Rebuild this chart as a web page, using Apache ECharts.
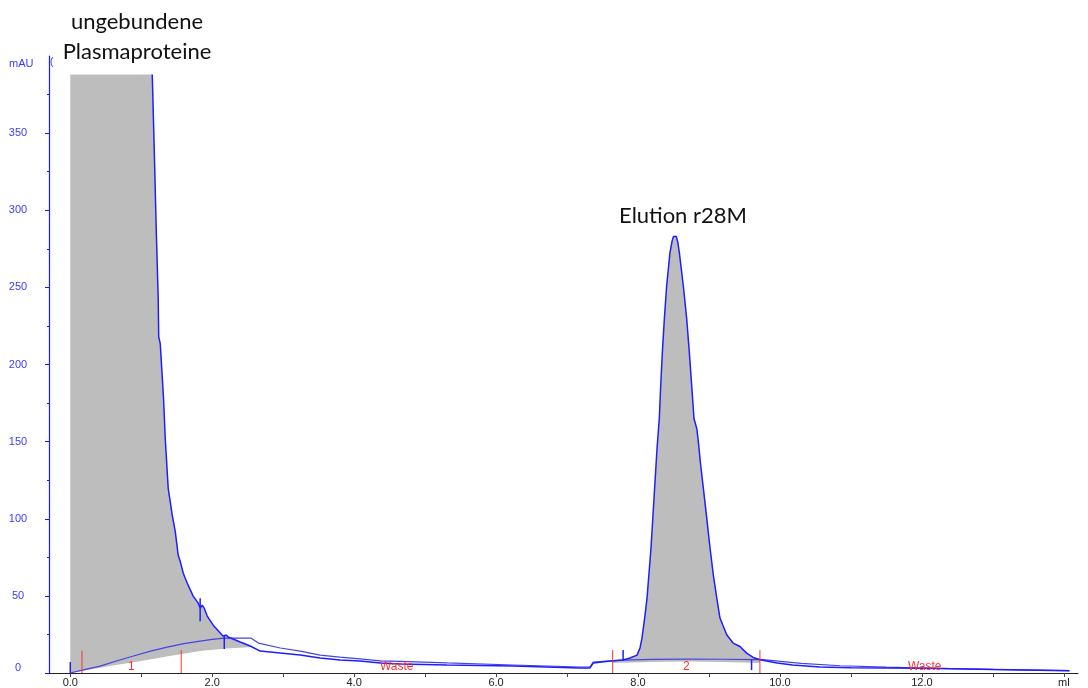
<!DOCTYPE html>
<html>
<head>
<meta charset="utf-8">
<script src="https://cdn.jsdelivr.net/npm/echarts@6/dist/echarts.min.js"></script>
<style>
  html, body { margin: 0; padding: 0; background: #ffffff; }
  #chart { width: 1088px; height: 688px; }
</style>
</head>
<body>
<div id="chart"></div>
<script>
// ---- Chromatogram data: volume (ml) vs. UV absorbance (mAU) ----

// Detector off-scale right after injection (flow-through peak)
const uvSaturated = [[0, 0], [0, 388], [1.155, 388]];

// UV trace, on-scale part
const uvTrace = [
  [1.155, 388], [1.183, 339.6], [1.211, 287.8], [1.239, 242.6], [1.246, 218], [1.268, 213.4],
  [1.314, 177.9], [1.338, 152], [1.38, 119.7], [1.437, 102.2], [1.479, 91.8], [1.521, 76.3],
  [1.549, 72.4], [1.592, 64.7], [1.648, 58.2], [1.732, 49.8], [1.803, 45.3], [1.831, 42.0],
  [1.859, 44.0], [1.887, 42.0], [1.93, 36.9], [2.014, 31.0], [2.155, 23.9], [2.197, 24.6],
  [2.225, 23.3], [2.394, 20.1], [2.535, 17.5], [2.676, 14.2], [2.958, 12.9], [3.24, 11.6],
  [3.52, 9.7], [3.8, 8.4], [4.08, 7.8], [4.37, 6.5], [4.65, 5.8], [5.31, 5.2], [6.24, 4.5],
  [7.18, 3.2], [7.32, 3.2], [7.37, 6.5], [7.61, 7.8], [7.79, 8.4], [7.887, 9.7], [7.986, 11.6],
  [8.028, 16.2], [8.056, 22.6], [8.099, 37.5], [8.127, 48.5], [8.183, 81], [8.225, 113],
  [8.268, 145.5], [8.3, 165], [8.32, 186.5], [8.343, 208], [8.371, 229.6], [8.404, 251.2],
  [8.451, 272.7], [8.48, 280], [8.5, 283], [8.52, 284], [8.54, 283], [8.56, 279.5],
  [8.582, 272.7], [8.638, 251.2], [8.686, 229.6], [8.723, 208], [8.756, 186.5], [8.789, 165],
  [8.83, 158], [8.85, 150], [8.88, 136], [8.92, 120], [8.96, 104], [9.01, 83], [9.06, 64],
  [9.11, 48.5], [9.155, 35.6], [9.25, 24.8], [9.34, 19.4], [9.437, 17.2], [9.53, 12.9],
  [9.624, 10.1], [9.718, 8.6], [9.96, 6.5], [10.18, 5.2], [10.56, 3.9], [11.0, 3.4],
  [12.04, 3.0], [13.0, 2.2], [14.08, 1.5]
];

// Integration baseline
const baselineTrace = [
  [0, 0], [0.2, 2.2], [0.42, 4.5], [0.65, 7.8], [0.89, 11.0], [1.13, 14.2], [1.366, 16.8],
  [1.6, 19.0], [1.83, 20.7], [2.0, 21.8], [2.17, 22.6], [2.55, 22.6], [2.65, 19.4],
  [2.96, 16.2], [3.24, 14.2], [3.52, 11.6], [3.8, 10.3], [4.08, 9.1], [4.37, 7.8],
  [4.65, 7.6], [5.31, 6.5], [6.24, 5.2], [7.18, 3.9], [7.32, 3.9], [7.37, 7.1], [7.61, 7.8],
  [7.79, 8.4], [8.2, 8.8], [8.7, 9.0], [9.2, 8.9], [9.62, 8.7], [9.72, 8.8], [9.9, 8.0],
  [10.3, 6.3], [10.85, 4.7], [11.5, 3.8], [12.04, 3.2], [13.0, 2.3], [14.08, 1.5]
];

// Lower edges of the integrated peak areas
const peak1Floor = [[0, 0], [0.3, 2.5], [0.6, 4.9], [1.0, 7.8], [1.4, 11.0], [1.83, 14.2], [2.2, 15.9], [2.55, 16.8]];
const peak2Floor = [[7.643, 6.5], [8.2, 7.2], [8.7, 7.4], [9.2, 7.2], [9.718, 6.5]];
const peak1Range = [0, 2.535];
const peak2Range = [7.643, 9.718];

// Event marks [ml, from mAU, to mAU]
const eventMarks = [[0, 0, 7.1], [1.83, 33.6, 48.5], [2.17, 15.5, 24.0], [7.79, 7.8, 14.9], [9.6, 1.9, 8.4]];
// Fraction boundaries [ml, height mAU]
const fractionMarks = [[0.165, 14.4], [1.563, 14.9], [7.643, 14.9], [9.718, 14.9]];
// Fraction names [ml, text]
const fractionLabels = [[0.86, '1'], [4.6, 'Waste'], [8.68, '2'], [12.04, 'Waste']];

// Axis ticks
const xLabelValues = [0, 2, 4, 6, 8, 10, 12, 14];
const xTickValues = [0, 1, 2, 3, 4, 5, 6, 7, 8, 9, 10, 11, 12, 13, 14];
const yLabelValues = [0, 50, 100, 150, 200, 250, 300, 350];
const yMinorValues = [25, 75, 125, 175, 225, 275, 325, 375];

// ---- Chart ----
const chart = echarts.init(document.getElementById('chart'), null, { renderer: 'canvas' });

function areaBetween(top, floor) {
  const pts = top.concat(floor.slice().reverse());
  return {
    type: 'custom',
    silent: true,
    clip: true,
    z: 1,
    data: [[top[0][0], top[0][1]]],
    renderItem: function (params, api) {
      return {
        type: 'polygon',
        shape: { points: pts.map(function (p) { return api.coord(p); }) },
        style: { fill: '#bdbdbd', stroke: null }
      };
    }
  };
}

const peak1Top = uvSaturated.concat(uvTrace.filter(p => p[0] <= peak1Range[1]));
const peak2Top = [[peak2Range[0], 7.8]]
  .concat(uvTrace.filter(p => p[0] > peak2Range[0] && p[0] < peak2Range[1]))
  .concat([[peak2Range[1], 8.6]]);

const ax = { fontFamily: 'Liberation Sans, Arial, sans-serif', fontSize: 11 };

const option = {
  animation: false,
  backgroundColor: '#ffffff',
  grid: { left: 49, right: 10, top: 56, bottom: 13 },
  xAxis: [
    {
      type: 'value', min: -0.3, max: 14.2,
      axisLine: { show: true, onZero: false, lineStyle: { color: '#222222', width: 1 } },
      axisTick: { show: true, customValues: xTickValues, length: 4, lineStyle: { color: '#444444' } },
      axisLabel: {
        customValues: xLabelValues, margin: 4, color: '#222222', ...ax,
        formatter: v => (v === 14 ? 'ml' : v.toFixed(1))
      },
      splitLine: { show: false }
    }
  ],
  yAxis: [
    {
      type: 'value', min: 0, max: 400,
      axisLine: { show: true, onZero: false, lineStyle: { color: '#1a1aff', width: 1.2 } },
      axisTick: { show: true, customValues: yLabelValues, length: 4, lineStyle: { color: '#1a1aff' } },
      axisLabel: {
        customValues: yLabelValues, margin: 31, align: 'center', color: '#3a3aff', ...ax,
        formatter: v => (v === 0 ? '{zero|0}' : String(v)),
        rich: { zero: { color: '#3a3aff', ...ax, padding: [0, 0, 10, 0] } }
      },
      splitLine: { show: false }
    },
    {
      type: 'value', min: 0, max: 400, position: 'left',
      axisLine: { show: false, onZero: false },
      axisTick: { show: true, customValues: yMinorValues, length: 2, lineStyle: { color: '#1a1aff' } },
      axisLabel: { show: false },
      splitLine: { show: false }
    }
  ],
  graphic: [
    { type: 'text', left: 9, top: 58, style: { text: 'mAU', fill: '#3a3aff', font: '11px "Liberation Sans", Arial, sans-serif' } },
    { type: 'text', left: 50, top: 57, style: { text: '(', fill: '#3a3aff', font: '10px "Liberation Sans", Arial, sans-serif' } },
    { type: 'text', x: 137, y: 22, style: { text: 'ungebundene', fill: '#111111', font: '22px Lato, sans-serif', textAlign: 'center', textVerticalAlign: 'middle' } },
    { type: 'text', x: 137, y: 52, style: { text: 'Plasmaproteine', fill: '#111111', font: '22px Lato, sans-serif', textAlign: 'center', textVerticalAlign: 'middle' } },
    { type: 'text', x: 683, y: 216, style: { text: 'Elution r28M', fill: '#111111', font: '22px Lato, sans-serif', textAlign: 'center', textVerticalAlign: 'middle' } }
  ],
  series: [
    areaBetween(peak1Top, peak1Floor),
    areaBetween(peak2Top, peak2Floor),
    {
      name: 'Baseline', type: 'line', data: baselineTrace, showSymbol: false, z: 3,
      lineStyle: { color: '#4444e6', width: 1.2 }, silent: true
    },
    {
      name: 'UV', type: 'line', data: uvTrace, showSymbol: false, z: 4,
      lineStyle: { color: '#1e1eff', width: 1.5 }, silent: true
    },
    {
      type: 'custom', z: 5, silent: true, clip: true,
      data: eventMarks,
      encode: { x: 0, y: [1, 2] },
      renderItem: function (params, api) {
        const a = api.coord([api.value(0), api.value(1)]);
        const b = api.coord([api.value(0), api.value(2)]);
        return { type: 'line', shape: { x1: a[0], y1: a[1], x2: b[0], y2: b[1] }, style: { stroke: '#1e1eff', lineWidth: 1.5 } };
      }
    },
    {
      type: 'custom', z: 5, silent: true, clip: true,
      data: fractionMarks,
      encode: { x: 0, y: 1 },
      renderItem: function (params, api) {
        const a = api.coord([api.value(0), 0]);
        const b = api.coord([api.value(0), api.value(1)]);
        return { type: 'line', shape: { x1: a[0], y1: a[1], x2: b[0], y2: b[1] }, style: { stroke: '#ff3030', lineWidth: 1 } };
      }
    },
    {
      type: 'custom', z: 6, silent: true,
      data: fractionLabels.map(d => [d[0], 0, d[1]]),
      encode: { x: 0, y: 1 },
      renderItem: function (params, api) {
        const p = api.coord([api.value(0), 0]);
        return {
          type: 'text', x: p[0], y: p[1] - 6,
          style: { text: fractionLabels[params.dataIndex][1], fill: '#ff3030', font: '12px "Liberation Sans", Arial, sans-serif', textAlign: 'center', textVerticalAlign: 'middle' }
        };
      }
    }
  ]
};

chart.setOption(option);
</script>
</body>
</html>
